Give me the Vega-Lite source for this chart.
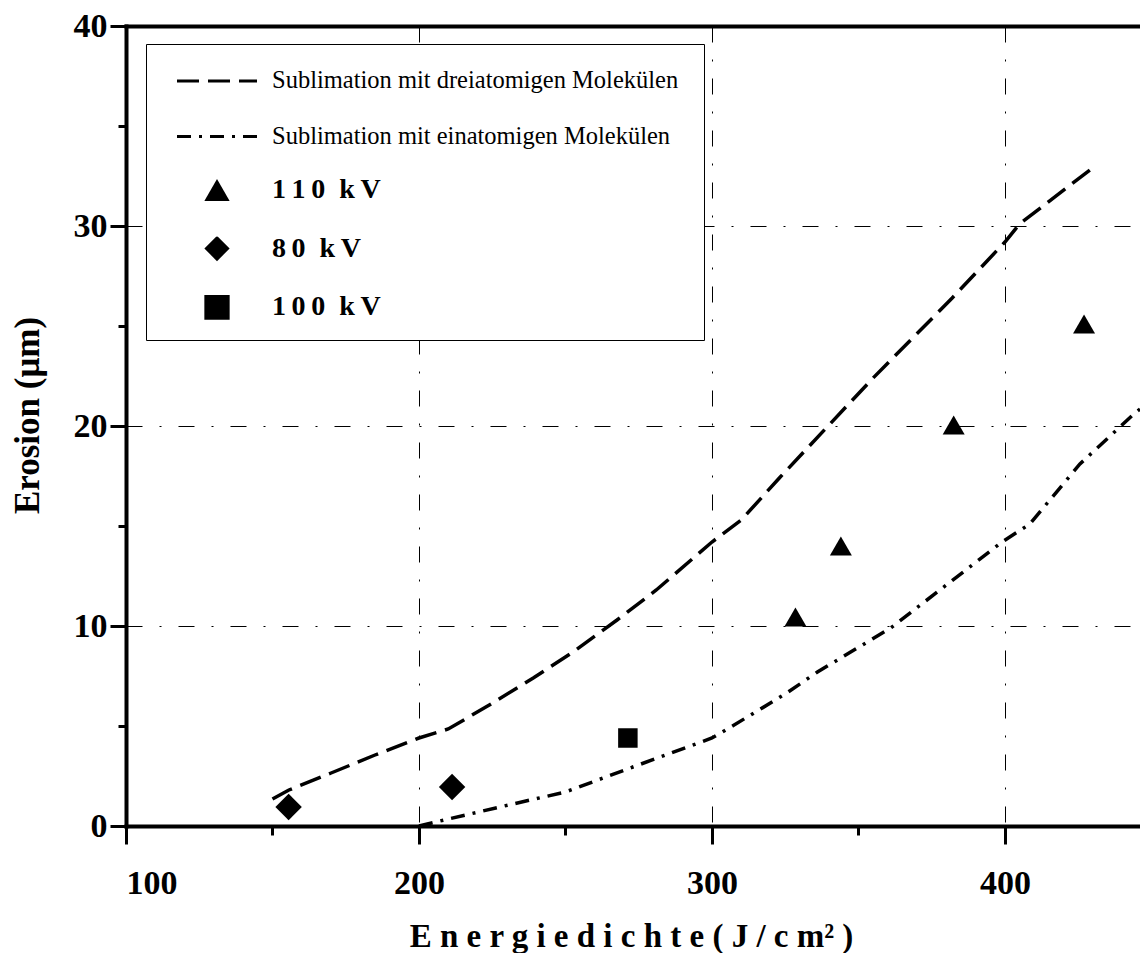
{
  "$schema": "https://vega.github.io/schema/vega-lite/v6.json",
  "width": 1014,
  "height": 800,
  "autosize": {"type": "none"},
  "padding": {"left": 126, "top": 26, "right": 0, "bottom": 127},
  "background": "white",
  "config": {
    "view": {"stroke": null},
    "axis": {
      "domainColor": "black", "domainWidth": 4, "domainCap": "square",
      "tickColor": "black", "tickWidth": 3,
      "labelColor": "black", "labelFont": "Liberation Serif", "labelFontWeight": "bold", "labelFontSize": 34,
      "titleFont": "Liberation Serif", "titleFontWeight": "bold", "titleColor": "black",
      "gridColor": "black", "gridWidth": 1, "gridDash": [16, 17, 2, 17]
    },
    "legend": {
      "direction": "vertical",
      "clipHeight": 24, "rowPadding": 30.5,
      "labelFont": "Liberation Serif", "labelColor": "black", "labelLimit": 700
    }
  },
  "datasets": {
    "curves": [
      {"series": "Sublimation mit dreiatomigen Molekülen", "x": 150, "y": 1.35},
      {"series": "Sublimation mit dreiatomigen Molekülen", "x": 155.6, "y": 1.8},
      {"series": "Sublimation mit dreiatomigen Molekülen", "x": 170, "y": 2.65},
      {"series": "Sublimation mit dreiatomigen Molekülen", "x": 185, "y": 3.55},
      {"series": "Sublimation mit dreiatomigen Molekülen", "x": 200, "y": 4.4},
      {"series": "Sublimation mit dreiatomigen Molekülen", "x": 210, "y": 4.85},
      {"series": "Sublimation mit dreiatomigen Molekülen", "x": 224, "y": 6.05},
      {"series": "Sublimation mit dreiatomigen Molekülen", "x": 239, "y": 7.4},
      {"series": "Sublimation mit dreiatomigen Molekülen", "x": 252.6, "y": 8.7},
      {"series": "Sublimation mit dreiatomigen Molekülen", "x": 267.6, "y": 10.3},
      {"series": "Sublimation mit dreiatomigen Molekülen", "x": 281, "y": 11.8},
      {"series": "Sublimation mit dreiatomigen Molekülen", "x": 300, "y": 14.2},
      {"series": "Sublimation mit dreiatomigen Molekülen", "x": 310, "y": 15.3},
      {"series": "Sublimation mit dreiatomigen Molekülen", "x": 323, "y": 17.4},
      {"series": "Sublimation mit dreiatomigen Molekülen", "x": 339, "y": 19.9},
      {"series": "Sublimation mit dreiatomigen Molekülen", "x": 355, "y": 22.4},
      {"series": "Sublimation mit dreiatomigen Molekülen", "x": 382, "y": 26.4},
      {"series": "Sublimation mit dreiatomigen Molekülen", "x": 400, "y": 29.2},
      {"series": "Sublimation mit dreiatomigen Molekülen", "x": 405, "y": 30.1},
      {"series": "Sublimation mit dreiatomigen Molekülen", "x": 429, "y": 32.8},
      {"series": "Sublimation mit einatomigen Molekülen", "x": 200, "y": 0},
      {"series": "Sublimation mit einatomigen Molekülen", "x": 210, "y": 0.35},
      {"series": "Sublimation mit einatomigen Molekülen", "x": 227.6, "y": 0.95},
      {"series": "Sublimation mit einatomigen Molekülen", "x": 250, "y": 1.7},
      {"series": "Sublimation mit einatomigen Molekülen", "x": 273, "y": 2.95},
      {"series": "Sublimation mit einatomigen Molekülen", "x": 300, "y": 4.4},
      {"series": "Sublimation mit einatomigen Molekülen", "x": 307, "y": 5.0},
      {"series": "Sublimation mit einatomigen Molekülen", "x": 325, "y": 6.6},
      {"series": "Sublimation mit einatomigen Molekülen", "x": 336, "y": 7.7},
      {"series": "Sublimation mit einatomigen Molekülen", "x": 361, "y": 9.9},
      {"series": "Sublimation mit einatomigen Molekülen", "x": 399, "y": 14.2},
      {"series": "Sublimation mit einatomigen Molekülen", "x": 408.5, "y": 15.1},
      {"series": "Sublimation mit einatomigen Molekülen", "x": 425.6, "y": 18.1},
      {"series": "Sublimation mit einatomigen Molekülen", "x": 444, "y": 20.6},
      {"series": "Sublimation mit einatomigen Molekülen", "x": 446.1, "y": 20.85}
    ],
    "points": [
      {"series": "110 kV", "x": 328.5, "y": 10.45},
      {"series": "110 kV", "x": 344, "y": 14.0},
      {"series": "110 kV", "x": 382.5, "y": 20.05},
      {"series": "110 kV", "x": 427, "y": 25.1},
      {"series": "80 kV", "x": 155.5, "y": 0.95},
      {"series": "80 kV", "x": 211.3, "y": 1.95},
      {"series": "100 kV", "x": 271.3, "y": 4.4}
    ]
  },
  "resolve": {"axis": {"x": "independent"}},
  "layer": [
    {
      "data": {"name": "curves"},
      "mark": {"type": "line", "color": "black", "strokeWidth": 3.5, "strokeCap": "butt"},
      "encoding": {
        "x": {
          "field": "x", "type": "quantitative",
          "scale": {"domain": [100, 446.1], "nice": false, "zero": false},
          "axis": {
            "orient": "bottom",
            "values": [100, 150, 200, 250, 300, 350, 400],
            "labelExpr": "datum.value % 100 == 0 ? datum.label : ''",
            "tickSize": {"condition": {"test": "datum.value % 100 == 0", "value": 18}, "value": 9},
            "grid": true,
            "gridOpacity": {"condition": {"test": "datum.value % 100 == 0 && datum.value > 100", "value": 1}, "value": 0},
            "labelPadding": 22,
            "title": "E n e r g i e d i c h t e  ( J / c m² )",
            "titleFontSize": 33,
            "titleX": 505,
            "titleY": 120,
            "titleAlign": "center",
            "titleBaseline": "alphabetic"
          }
        },
        "y": {
          "field": "y", "type": "quantitative",
          "scale": {"domain": [0, 40], "nice": false, "zero": false},
          "axis": {
            "orient": "left",
            "values": [0, 5, 10, 15, 20, 25, 30, 35, 40],
            "labelExpr": "datum.value % 10 == 0 ? datum.label : ''",
            "tickSize": {"condition": {"test": "datum.value % 10 == 0", "value": 16}, "value": 8},
            "grid": true,
            "gridOpacity": {"condition": {"test": "datum.value % 10 == 0 && datum.value > 0 && datum.value < 40", "value": 1}, "value": 0},
            "labelPadding": 3,
            "title": "Erosion (μm)",
            "titleFontSize": 35,
            "titleAngle": 270,
            "titleX": -99,
            "titleY": 389,
            "titleAlign": "center",
            "titleBaseline": "middle"
          }
        },
        "strokeDash": {
          "field": "series", "type": "nominal",
          "scale": {
            "domain": ["Sublimation mit dreiatomigen Molekülen", "Sublimation mit einatomigen Molekülen", "110 kV", "80 kV", "100 kV"],
            "range": [[22, 9], [14, 8, 3, 8], [0, 1000], [0, 1000], [0, 1000]]
          },
          "legend": {
            "title": null,
            "orient": "none", "legendX": 20, "legendY": 18, "zindex": 0,
            "strokeColor": "black", "fillColor": "white", "padding": 25,
            "symbolType": "stroke", "symbolSize": 6400, "symbolStrokeWidth": 3, "symbolStrokeColor": "black",
            "symbolOffset": 4.5, "labelOffset": 13.5,
            "labelFontSize": 24.5, "labelFontWeight": "normal",
            "labelExpr": "indexof(datum.label, 'Sublimation') == 0 ? datum.label : ''"
          }
        }
      }
    },
    {
      "data": {"name": "points"},
      "transform": [{"filter": "datum.series == '110 kV'"}],
      "mark": {"type": "point", "filled": true, "color": "black", "size": 484, "opacity": 1},
      "encoding": {
        "x": {
          "field": "x", "type": "quantitative",
          "axis": {"orient": "top", "labels": false, "ticks": false, "grid": false, "domain": true, "title": null}
        },
        "y": {"field": "y", "type": "quantitative"},
        "shape": {
          "field": "series", "type": "nominal",
          "scale": {
            "domain": ["110 kV", "80 kV", "100 kV"],
            "range": ["triangle-up", "diamond", "square"]
          },
          "legend": {
            "title": null,
            "orient": "none", "legendX": 20, "legendY": 127, "zindex": 1,
            "strokeColor": "transparent", "fillColor": "transparent", "padding": 25,
            "symbolSize": 640, "symbolStrokeWidth": 0, "symbolFillColor": "black", "symbolStrokeColor": "black",
            "symbolOffset": 32, "labelOffset": 41,
            "labelFontSize": 28, "labelFontWeight": "bold",
            "labelExpr": "datum.label == '110 kV' ? '1\u20091\u20090\u2002k\u2009V' : datum.label == '80 kV' ? '8\u20090\u2002k\u2009V' : datum.label == '100 kV' ? '1\u20090\u20090\u2002k\u2009V' : datum.label"
          }
        }
      }
    },
    {
      "data": {"name": "points"},
      "transform": [{"filter": "datum.series == '80 kV'"}],
      "mark": {"type": "point", "filled": true, "color": "black", "size": 700, "opacity": 1},
      "encoding": {
        "x": {"field": "x", "type": "quantitative", "axis": null},
        "y": {"field": "y", "type": "quantitative"},
        "shape": {"field": "series", "type": "nominal"}
      }
    },
    {
      "data": {"name": "points"},
      "transform": [{"filter": "datum.series == '100 kV'"}],
      "mark": {"type": "point", "filled": true, "color": "black", "size": 380, "opacity": 1},
      "encoding": {
        "x": {"field": "x", "type": "quantitative", "axis": null},
        "y": {"field": "y", "type": "quantitative"},
        "shape": {"field": "series", "type": "nominal"}
      }
    }
  ]
}
